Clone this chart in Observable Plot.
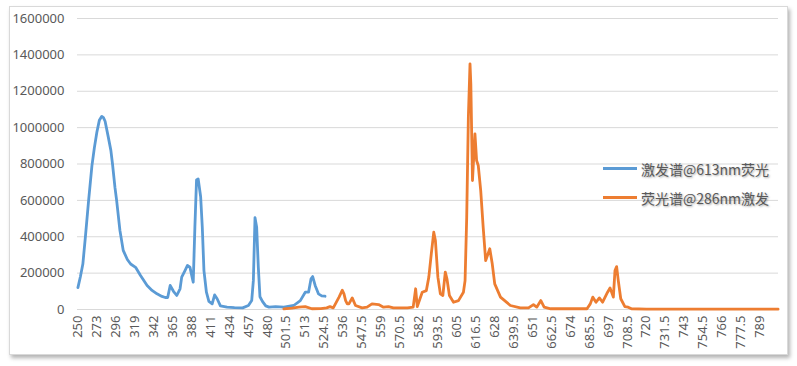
<!DOCTYPE html>
<html><head><meta charset="utf-8">
<script src="https://cdn.jsdelivr.net/npm/d3@7"></script>
<script src="https://cdn.jsdelivr.net/npm/@observablehq/plot@0.6"></script>
<style>
body{margin:0;background:#fff;}
#wrap{position:relative;width:797px;height:366px;overflow:hidden;background:#fff;}
#frame{position:absolute;left:9px;top:6px;width:777px;height:347px;border:1px solid #d9d9d9;box-shadow:2px 3px 4px rgba(0,0,0,0.3);background:#fff;}
#chart{position:absolute;left:0;top:0;}
#legend{position:absolute;left:603px;top:154px;font-family:"Noto Sans CJK SC";font-size:14px;color:#595959;}
.item{display:flex;align-items:center;height:29px;text-shadow:1px 1px 2px rgba(0,0,0,0.35);}
.sw{display:inline-block;width:34px;height:3px;margin-right:4px;}
</style></head>
<body>
<div id="wrap"><div id="frame"></div><div id="chart"></div>
<div id="legend"></div></div>
<script>
// Category labels shown on the x axis (every 23rd category)
const tickLabels = ["250","273","296","319","342","365","388","411","434","457","480","501.5","513","524.5","536","547.5","559","570.5","582","593.5","605","616.5","628","639.5","651","662.5","674","685.5","697","708.5","720","731.5","743","754.5","766","777.5","789"];
const yTicks = [0,200000,400000,600000,800000,1000000,1200000,1400000,1600000];

const seriesNames = ["激发谱@613nm荧光","荧光谱@286nm激发"];
const seriesColors = ["#5B9BD5","#ED7D31"];

// 激发谱@613nm荧光 (positions given in x-axis category units)
const exX = [250,253,256,259,263,267,270,273,276,279,281,283,287,290,292,295,297,301,305,310,314,320,326,334,340,346,352,356,359,362,366,370,374,376,380,383,386,389,390,392,394,396,399,401,403,406,409,413,416,419,423,431,440,450,457,461,463,465,467,469,471,474,478,482,490,500,506,510,513,515,516.5,517.5,519,521,523,525];
const exY = [120000,180000,250000,395000,600000,790000,890000,975000,1040000,1062000,1055000,1035000,945000,875000,800000,670000,600000,435000,325000,275000,250000,232000,187000,132000,105000,86000,72000,66000,66000,132000,100000,77000,114000,178000,214000,242000,233000,170000,150000,452000,712000,718000,620000,452000,214000,95000,45000,31000,80000,59000,20000,13000,10000,9000,22000,49000,160000,505000,452000,233000,70000,45000,20000,13000,16000,13000,22000,49000,95000,95000,169000,181000,132000,86000,75000,73000];

// 荧光谱@286nm激发
const emX = [500,505,509,513,517,522.5,526,528,530,533.5,535.5,536.5,537.5,538.5,539.5,541.5,543.5,547.5,550.5,553.5,557.5,560.5,563.5,566.5,575,578.5,580,581,584,586.5,588,589.5,591,592,593.5,595,596.5,598,599,600.5,603,606,609,610,611,612,613,613.5,614.5,616,617,618,619.5,621,622.5,625,626.5,628,631.5,637.5,643.5,648.5,651.5,653.5,656,658,662,684,686,687.5,689.5,691.5,693.5,696.5,698,700,701,702,703,704.5,707,709,711,720,800];
const emY = [4000,8000,13000,16000,4000,5000,9000,16000,9000,68000,106000,86000,49000,31000,31000,64000,22000,9000,13000,31000,27000,13000,16000,9000,9000,13000,114000,16000,95000,104000,178000,306000,425000,379000,178000,86000,77000,205000,169000,77000,40000,49000,95000,159000,508000,1057000,1351000,1241000,709000,966000,819000,792000,654000,452000,269000,334000,251000,141000,68000,22000,9000,9000,27000,13000,49000,13000,4000,4000,31000,68000,40000,64000,40000,95000,119000,68000,214000,236000,159000,59000,16000,13000,4000,2000,2000];

// category index: 1 nm steps up to 500, then 0.5 nm steps
const catIndex = v => v <= 500 ? v - 250 : 250 + (v - 500) * 2;
const labelIndex = tickLabels.map(l => catIndex(+l));

const ex = exX.map((v, i) => ({i: catIndex(v), y: exY[i]}));
const em = emX.map((v, i) => ({i: catIndex(v), y: emY[i]}));

const chart = Plot.plot({
  width: 797, height: 366,
  marginLeft: 77, marginRight: 19, marginTop: 18, marginBottom: 57,
  style: {fontFamily: "'Noto Sans'", fontSize: "13px", color: "#595959", background: "transparent"},
  x: {domain: [-0.5, 850.5], axis: null},
  y: {domain: [0, 1600000], axis: null},
  marks: [
    Plot.ruleY(yTicks, {stroke: "#d9d9d9", strokeWidth: 1}),
    Plot.axisY(yTicks, {tickSize: 0, tickPadding: 13, tickFormat: d => String(d), fill: "#595959", label: null}),
    Plot.axisX(labelIndex, {tickSize: 0, tickPadding: 6, tickRotate: -90, tickFormat: (d, i) => tickLabels[i], fill: "#595959", label: null}),
    Plot.line(ex, {x: "i", y: "y", stroke: seriesColors[0], strokeWidth: 2.8, strokeLinejoin: "round", strokeLinecap: "round"}),
    Plot.line(em, {x: "i", y: "y", stroke: seriesColors[1], strokeWidth: 2.8, strokeLinejoin: "round", strokeLinecap: "round"})
  ]
});
document.getElementById("chart").appendChild(chart);

const leg = document.getElementById("legend");
seriesNames.forEach((n, k) => {
  const d = document.createElement("div");
  d.className = "item";
  d.innerHTML = `<span class="sw" style="background:${seriesColors[k]}"></span><span>${n}</span>`;
  leg.appendChild(d);
});
</script>
</body></html>
